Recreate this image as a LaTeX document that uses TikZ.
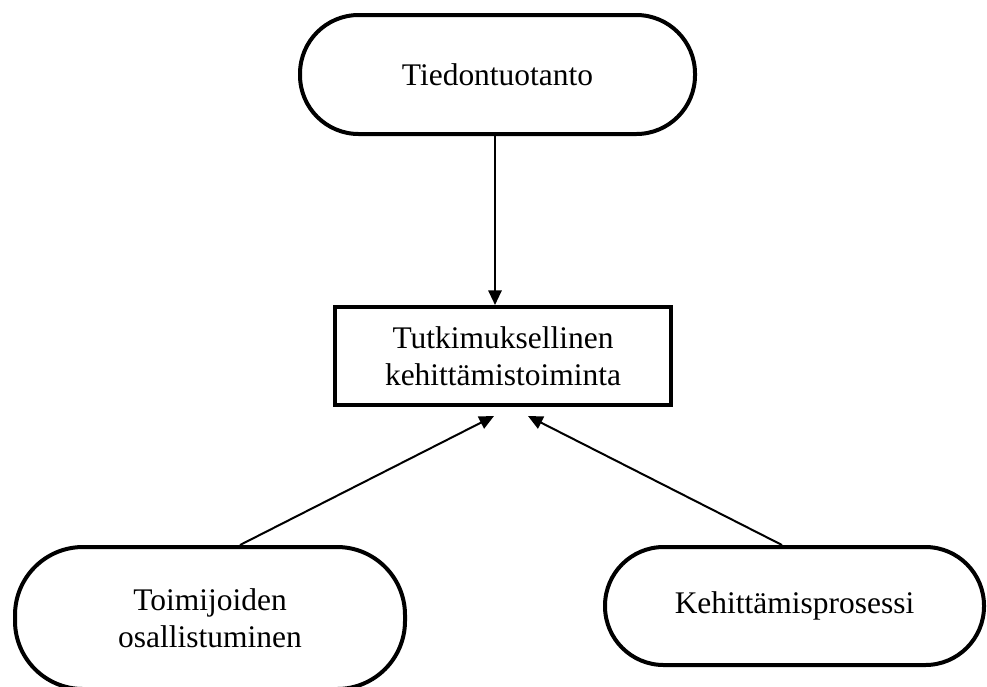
\documentclass[tikz,border=0pt]{standalone}
\usepackage{fontspec}
\setmainfont{Liberation Serif}
\usetikzlibrary{arrows.meta,calc}
\begin{document}
\begin{tikzpicture}[x=0.75pt,y=-0.75pt,
  every node/.style={font=\fontsize{23.6}{27.75}\selectfont, align=center, inner sep=0pt},
  pill/.style={draw, line width=3pt, rounded corners=44pt},
  boxnode/.style={draw, line width=3pt},
  conn/.style={line width=1.5pt, -{Triangle[width=10pt,length=11pt]}}]
\useasboundingbox (0,0) rectangle (987,686);
\clip (0,0) rectangle (987,686);
\fill[white] (0,0) rectangle (987,686);
\node[pill, minimum width=296.25pt, minimum height=89.25pt] (top) at (497.5,74.5) {Tiedontuotanto};
\node[boxnode, minimum width=252pt, minimum height=73.5pt] (mid) at (503,356) {Tutkimuksellinen\\kehittämistoiminta};
\node[pill, rounded corners=51pt, minimum width=292.5pt, minimum height=106.5pt] (bl) at (210,618) {Toimijoiden\\osallistuminen};
\node[pill, minimum width=284.25pt, minimum height=88.5pt] (br) at (794.5,606) {Kehittämisprosessi};
\coordinate (lt) at ($(mid.south)+(-9,9)$);
\coordinate (rt) at ($(mid.south)+(25,9)$);
\draw[conn] (top.south -| 495,0) -- (mid.north -| 495,0);
\draw[conn] ($(bl.north)+(30,0)$) -- (lt);
\draw[conn] ($(br.north)+(-12.5,0)$) -- (rt);
\end{tikzpicture}
\end{document}
